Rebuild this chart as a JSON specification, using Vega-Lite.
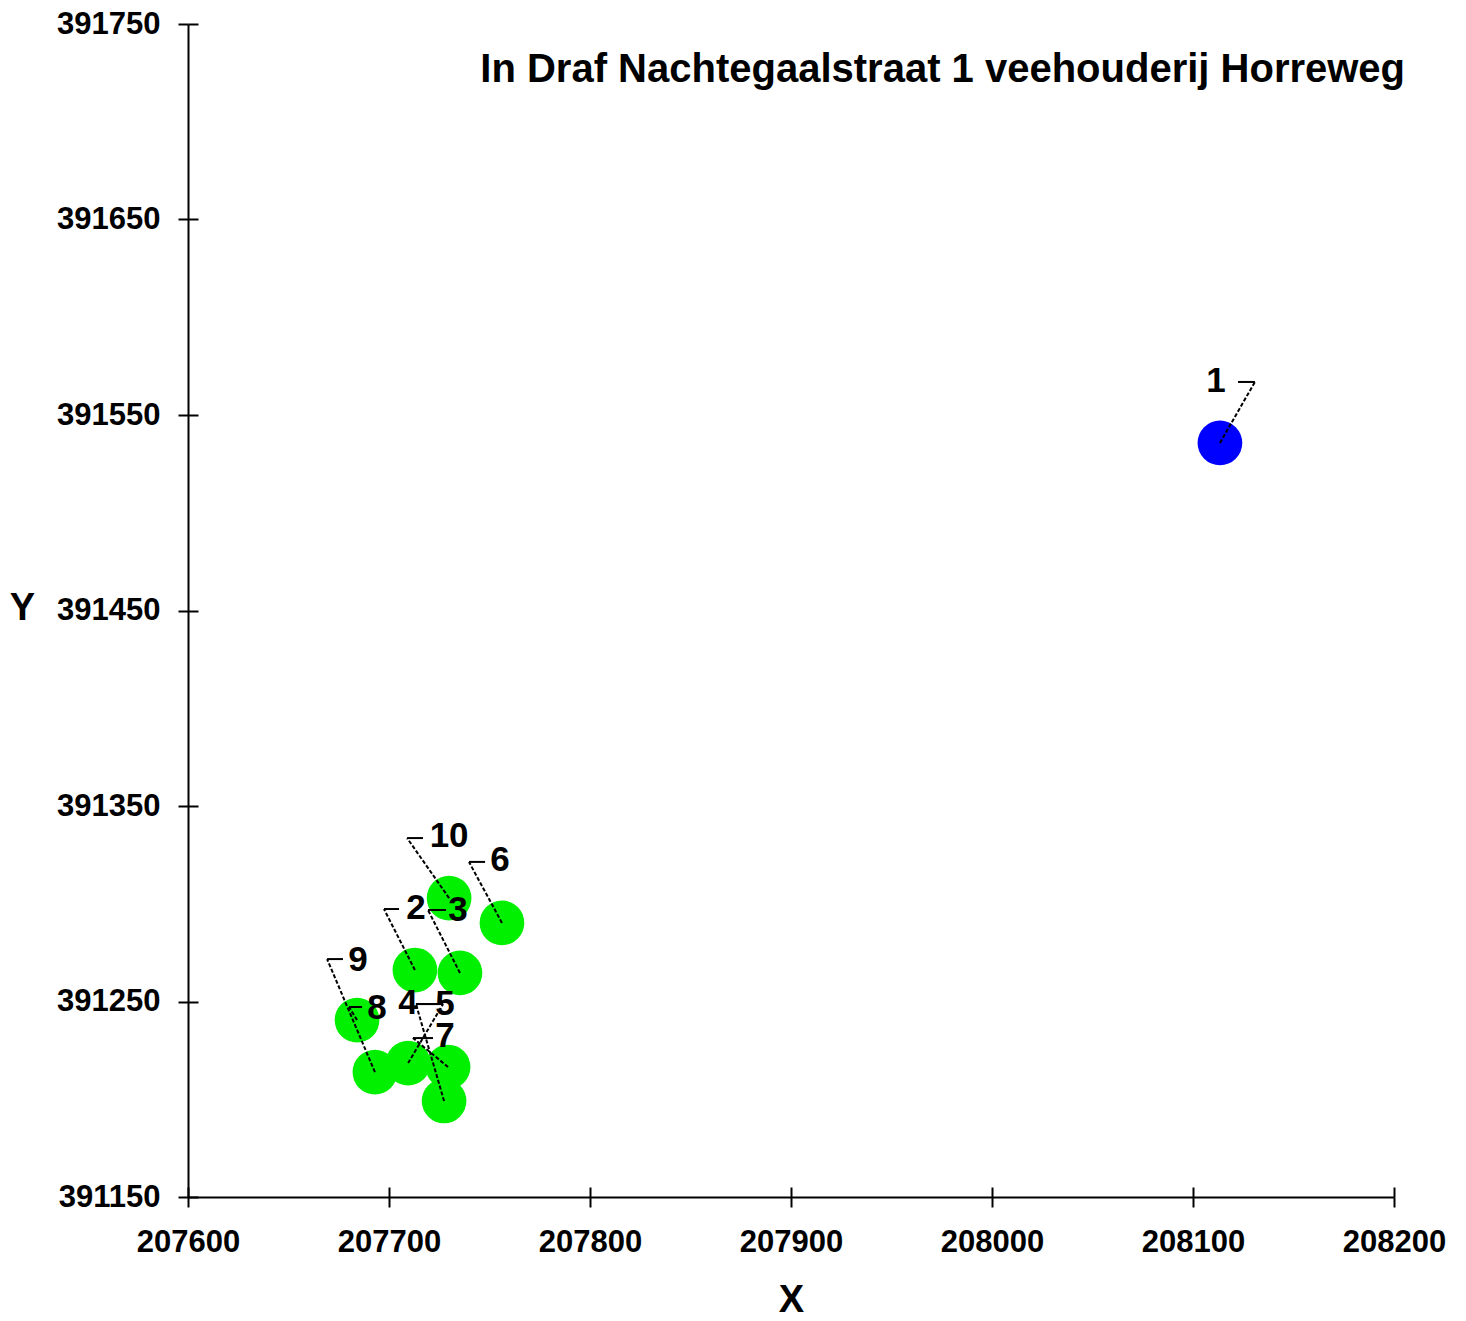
{
  "$schema": "https://vega.github.io/schema/vega-lite/v6.json",
  "width": 1206,
  "height": 1173,
  "autosize": {"type": "none"},
  "padding": {"left": 188, "top": 24, "right": 72, "bottom": 124},
  "background": "white",
  "config": {"view": {"stroke": null}, "font": "Liberation Sans"},
  "datasets": {
    "punten": [
      {"id": "1", "x": 208113.4, "y": 391535.7, "ex": 208130.8, "ey": 391566.9, "hx": 208122.4, "lx": 208111.4, "ly": 391567.4, "type": "bron"},
      {"id": "10", "x": 207729.9, "y": 391302.9, "ex": 207709.0, "ey": 391333.6, "hx": 207716.9, "lx": 207729.9, "ly": 391334.7, "type": "receptor"},
      {"id": "6", "x": 207756.2, "y": 391290.2, "ex": 207739.8, "ey": 391321.4, "hx": 207747.8, "lx": 207755.2, "ly": 391322.4, "type": "receptor"},
      {"id": "2", "x": 207712.9, "y": 391266.1, "ex": 207697.5, "ey": 391297.3, "hx": 207705.0, "lx": 207713.4, "ly": 391297.8, "type": "receptor"},
      {"id": "3", "x": 207735.3, "y": 391264.6, "ex": 207719.4, "ey": 391296.8, "hx": 207728.4, "lx": 207734.3, "ly": 391296.8, "type": "receptor"},
      {"id": "8", "x": 207684.1, "y": 391240.5, "ex": 207680.1, "ey": 391247.2, "hx": 207686.6, "lx": 207694.0, "ly": 391246.7, "type": "receptor"},
      {"id": "9", "x": 207693.0, "y": 391213.9, "ex": 207669.2, "ey": 391271.7, "hx": 207677.1, "lx": 207684.6, "ly": 391271.2, "type": "receptor"},
      {"id": "4", "x": 207709.5, "y": 391218.5, "ex": 207726.9, "ey": 391248.7, "hx": 207713.4, "lx": 207709.5, "ly": 391249.2, "type": "receptor"},
      {"id": "5", "x": 207727.4, "y": 391199.1, "ex": 207713.4, "ey": 391248.7, "hx": 207725.4, "lx": 207727.9, "ly": 391248.7, "type": "receptor"},
      {"id": "7", "x": 207729.4, "y": 391216.5, "ex": 207711.9, "ey": 391231.3, "hx": 207721.9, "lx": 207727.9, "ly": 391232.4, "type": "receptor"}
    ],
    "titel": [
      {"t": "In Draf Nachtegaalstraat 1 veehouderij Horreweg", "x": 208205.5, "y": 391726.5}
    ]
  },
  "resolve": {"axis": {"x": "independent", "y": "independent"}},
  "layer": [
    {
      "data": {"name": "punten"},
      "mark": {"type": "circle", "size": 2000, "opacity": 1},
      "encoding": {
        "x": {"field": "x", "type": "quantitative", "scale": {"domain": [207600, 208200], "nice": false, "zero": false},
          "axis": {"title": "X", "orient": "bottom", "values": [207600, 207700, 207800, 207900, 208000, 208100, 208200], "format": "d", "grid": false,
            "labelFlush": false, "labelOverlap": false, "labelBound": false,
            "domainColor": "black", "domainWidth": 2, "tickColor": "black", "tickWidth": 2, "tickSize": 10,
            "labelFont": "Liberation Sans", "labelFontWeight": "bold", "labelFontSize": 31, "labelColor": "black", "labelPadding": 20,
            "titleFont": "Liberation Sans", "titleFontWeight": "bold", "titleFontSize": 38, "titleColor": "black", "titlePadding": 24}},
        "y": {"field": "y", "type": "quantitative", "scale": {"domain": [391150, 391750], "nice": false, "zero": false},
          "axis": {"title": "Y", "orient": "left", "values": [391150, 391250, 391350, 391450, 391550, 391650, 391750], "format": "d", "grid": false,
            "labelFlush": false, "labelOverlap": false, "labelBound": false,
            "domainColor": "black", "domainWidth": 2, "tickColor": "black", "tickWidth": 2, "tickSize": 10,
            "labelFont": "Liberation Sans", "labelFontWeight": "bold", "labelFontSize": 31, "labelColor": "black", "labelPadding": 18,
            "titleFont": "Liberation Sans", "titleFontWeight": "bold", "titleFontSize": 38, "titleColor": "black",
            "titleAngle": 0, "titleX": -166, "titleY": 584, "titleAlign": "center", "titleBaseline": "middle"}},
        "color": {"field": "type", "type": "nominal", "scale": {"domain": ["bron", "receptor"], "range": ["#0000ff", "#00f000"]}, "legend": null}
      }
    },
    {
      "data": {"name": "punten"},
      "mark": {"type": "rule", "color": "black", "strokeWidth": 2, "strokeDash": [4, 2]},
      "encoding": {
        "x": {"field": "x", "type": "quantitative",
          "axis": {"orient": "bottom", "title": null, "labels": false, "domain": false, "grid": false, "values": [207600, 207700, 207800, 207900, 208000, 208100, 208200], "tickColor": "black", "tickWidth": 2, "tickSize": -10}},
        "y": {"field": "y", "type": "quantitative",
          "axis": {"orient": "left", "title": null, "labels": false, "domain": false, "grid": false, "values": [391150, 391250, 391350, 391450, 391550, 391650, 391750], "tickColor": "black", "tickWidth": 2, "tickSize": -10}},
        "x2": {"field": "ex"},
        "y2": {"field": "ey"}
      }
    },
    {
      "data": {"name": "punten"},
      "mark": {"type": "rule", "color": "black", "strokeWidth": 2},
      "encoding": {
        "x": {"field": "ex", "type": "quantitative", "axis": null},
        "y": {"field": "ey", "type": "quantitative", "axis": null},
        "x2": {"field": "hx"}
      }
    },
    {
      "data": {"name": "punten"},
      "mark": {"type": "text", "font": "Liberation Sans", "fontWeight": "bold", "fontSize": 35, "color": "black", "align": "center", "baseline": "middle"},
      "encoding": {
        "x": {"field": "lx", "type": "quantitative", "axis": null},
        "y": {"field": "ly", "type": "quantitative", "axis": null},
        "text": {"field": "id"}
      }
    },
    {
      "data": {"name": "titel"},
      "mark": {"type": "text", "font": "Liberation Sans", "fontWeight": "bold", "fontSize": 40, "color": "black", "align": "right", "baseline": "middle"},
      "encoding": {
        "x": {"field": "x", "type": "quantitative", "axis": null},
        "y": {"field": "y", "type": "quantitative", "axis": null},
        "text": {"field": "t"}
      }
    }
  ]
}
